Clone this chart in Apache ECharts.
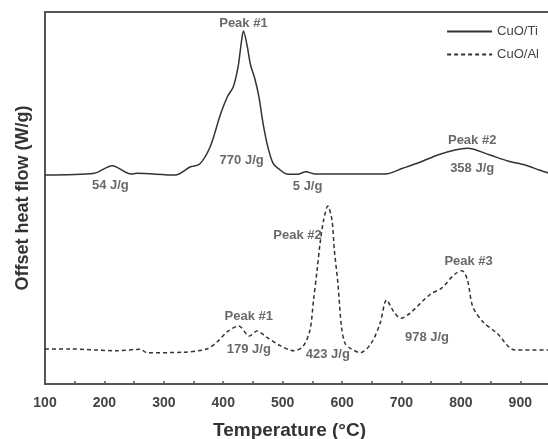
<!DOCTYPE html>
<html><head><meta charset="utf-8">
<script src="https://cdn.jsdelivr.net/npm/echarts@6/dist/echarts.min.js"></script>
<style>html,body{margin:0;padding:0;background:#fff}#c{width:548px;height:439px}</style>
</head><body><div id="c"></div>
<script>
// CuO/Ti (solid)
var tiTemp = [100,183,213,245,254,319,345,360,378,395,407,417,425,431,434,440,446,453,460,467,475,484,496,507,525,539,555,600,673,702,731,761,790,811,849,879,908,932,950];
var tiFlow = [209,210.7,218.3,210,210.7,209,217.3,219.7,237.3,269,287.3,297.3,317.3,344,353,339,319,305.7,287.3,260.7,237.3,220.7,214,210,209.7,212.3,210,210,210,215.7,221.7,229,234,235.7,229,223,219,214,210.5];
// CuO/Al (dashed)
var alTemp = [100,142,219,260,272,331,372,390,407,426,444,457,472,496,519,534,546,552,558,563,569,576,583,587,593,599,605,614,631,649,664,675,687,699,714,749,767,790,802,811,820,837,861,891,950];
var alFlow = [35,35,33.3,34.7,31.3,31.7,35,42.3,52.3,58,48,53,47.3,38.3,33.3,37.3,54,84,114,140.7,164,178,164,134,100.7,57.3,40.7,35.7,31.3,40.7,60.7,84,72.3,65.7,70.7,90,95.7,110,113.3,104,77.3,62.3,50.7,34,34];
// annotations
var annoText = ['Peak #1','54 J/g','770 J/g','5 J/g','Peak #2','358 J/g','Peak #1','179 J/g','Peak #2','423 J/g','Peak #3','978 J/g'];
var annoTemp = [434,210,431,542,819,819,443,443,525,576,813,743];
var annoFlow = [360.7,199,224,198,244,215.7,67.3,34.7,148.5,30,123,46.3];
var xTicks = [100,200,300,400,500,600,700,800,900];

function zip(a,b){return a.map(function(v,i){return [v,b[i]];});}
var annoData = annoTemp.map(function(t,i){return {value:[t,annoFlow[i]], name:annoText[i]};});

var chart = echarts.init(document.getElementById('c'));
chart.setOption({
  animation:false,
  textStyle:{fontFamily:'Liberation Sans, Arial, sans-serif'},
  grid:{left:45, right:-2, top:12, bottom:55, outerBoundsMode:'none', containLabel:false,
    show:true, borderColor:'#555', borderWidth:2},
  legend:{
    orient:'vertical', right:4, top:20, itemWidth:45, itemHeight:12, itemGap:10,
    data:['CuO/Ti','CuO/Al'],
    itemStyle:{opacity:0},
    textStyle:{fontSize:13, color:'#444', fontFamily:'Liberation Sans, Arial, sans-serif'}
  },
  xAxis:{
    type:'value', min:100, max:950, interval:100,
    name:'Temperature (°C)', nameLocation:'middle', nameGap:37,
    nameTextStyle:{fontSize:19, fontWeight:'bold', color:'#333', padding:[0,16,0,0]},
    axisLine:{lineStyle:{color:'#555', width:2}},
    axisTick:{inside:true, length:3, lineStyle:{color:'#555', width:1.5}},
    minorTick:{show:true, splitNumber:2, length:3, lineStyle:{color:'#555', width:1.5}},
    splitLine:{show:false},
    axisLabel:{fontSize:14, fontWeight:'bold', color:'#444', margin:12, showMaxLabel:false,
      formatter:function(v){return xTicks.indexOf(v)>=0 ? String(v) : '';}}
  },
  yAxis:{
    type:'value', min:0, max:372,
    name:'Offset heat flow (W/g)', nameLocation:'middle', nameGap:13,
    nameTextStyle:{fontSize:18, fontWeight:'bold', color:'#333'},
    axisLine:{show:true, lineStyle:{color:'#555', width:2}},
    axisTick:{show:false}, axisLabel:{show:false}, splitLine:{show:false}
  },
  series:[
    {name:'CuO/Ti', type:'line', data:zip(tiTemp,tiFlow), symbol:'none', smooth:0.3,
      lineStyle:{color:'#333', width:1.5}, itemStyle:{color:'#333'}},
    {name:'CuO/Al', type:'line', data:zip(alTemp,alFlow), symbol:'none', smooth:0.3,
      lineStyle:{color:'#333', width:1.5, type:[4,3]}, itemStyle:{color:'#333'}},
    {name:'anno', type:'scatter', data:annoData, symbolSize:1, itemStyle:{color:'rgba(0,0,0,0)'},
      silent:true,
      label:{show:true, position:'inside', formatter:function(p){return p.name;},
        fontSize:13, fontWeight:'bold', color:'#444'}}
  ]
});
</script></body></html>
